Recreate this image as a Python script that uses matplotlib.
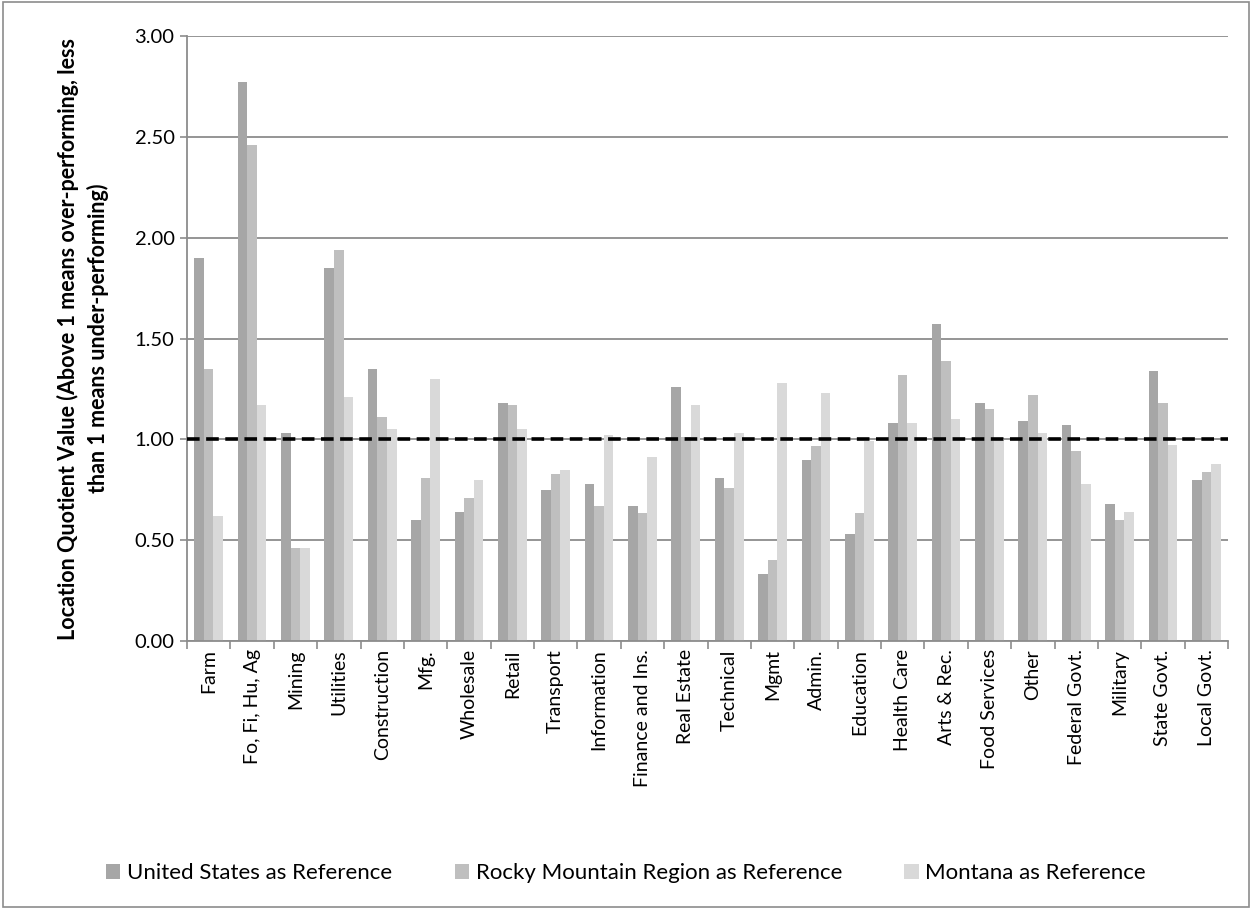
import numpy as np
import matplotlib.pyplot as plt
from matplotlib.patches import Rectangle

plt.rcParams['font.family'] = ['Lato', 'DejaVu Sans']

categories = ['Farm', 'Fo, Fi, Hu, Ag', 'Mining', 'Utilities', 'Construction', 'Mfg.',
              'Wholesale', 'Retail', 'Transport', 'Information', 'Finance and Ins.',
              'Real Estate', 'Technical', 'Mgmt', 'Admin.', 'Education', 'Health Care',
              'Arts & Rec.', 'Food Services', 'Other', 'Federal Govt.', 'Military',
              'State Govt.', 'Local Govt.']

us_ref = [1.90, 2.77, 1.03, 1.85, 1.35, 0.60, 0.64, 1.18, 0.75, 0.78, 0.67, 1.26,
          0.81, 0.33, 0.90, 0.53, 1.08, 1.57, 1.18, 1.09, 1.07, 0.68, 1.34, 0.80]
rocky_ref = [1.35, 2.46, 0.46, 1.94, 1.11, 0.81, 0.71, 1.17, 0.83, 0.67, 0.635, 1.01,
             0.76, 0.40, 0.965, 0.635, 1.32, 1.39, 1.15, 1.22, 0.94, 0.60, 1.18, 0.84]
mt_ref = [0.62, 1.17, 0.46, 1.21, 1.05, 1.30, 0.80, 1.05, 0.85, 1.02, 0.91, 1.17,
          1.03, 1.28, 1.23, 0.99, 1.08, 1.10, 1.00, 1.03, 0.78, 0.64, 0.97, 0.88]

series = [('United States as Reference', us_ref, '#A6A6A6'),
          ('Rocky Mountain Region as Reference', rocky_ref, '#BFBFBF'),
          ('Montana as Reference', mt_ref, '#D9D9D9')]

fig = plt.figure(figsize=(12.52, 9.09), dpi=100)
ax = fig.add_axes([187/1252, 1-641/909, (1228-187)/1252, (641-36)/909])

x = np.arange(len(categories))
w = 0.22
for i, (name, vals, col) in enumerate(series):
    ax.bar(x + (i-1)*w, vals, w, color=col, label=name, zorder=2)

ax.axhline(1.0, color='black', linestyle=(0, (3.5, 1.8)), linewidth=2.6, zorder=3)

ax.set_xlim(-0.5, len(categories)-0.5)
ax.set_ylim(0, 3)
ax.set_yticks(np.arange(0, 3.01, 0.5))
ax.set_yticklabels(['%.2f' % v for v in np.arange(0, 3.01, 0.5)], fontsize=14.5)
ax.yaxis.grid(True, color='#8c8c8c', linewidth=1.3, zorder=0)
ax.set_axisbelow(True)

ax.set_xticks(x)
ax.set_xticklabels(categories, rotation=90, fontsize=14)
ax.tick_params(axis='x', length=0, pad=6)
ax.set_xticks(np.arange(-0.5, len(categories), 1), minor=True)
ax.tick_params(axis='x', which='minor', length=6, color='#8c8c8c', width=1.2)
ax.tick_params(axis='y', length=5, color='#8c8c8c', width=1.2, pad=4)

for s in ['top', 'right']:
    ax.spines[s].set_visible(False)
for s in ['left', 'bottom']:
    ax.spines[s].set_color('#8c8c8c')
    ax.spines[s].set_linewidth(1.3)

ax.set_ylabel('Location Quotient Value (Above 1 means over-performing, less\nthan 1 means under-performing)',
              fontsize=15.5, fontweight='bold', labelpad=18, linespacing=1.45)

fig.legend(loc='center', bbox_to_anchor=(0.5, 1-873/909), ncol=3, frameon=False,
           fontsize=16, handlelength=0.65, handleheight=0.65, handletextpad=0.3,
           columnspacing=2.8)

fig.patches.append(Rectangle((0.002, 0.002), 0.996, 0.996, transform=fig.transFigure,
                             fill=False, edgecolor='#8c8c8c', linewidth=1.2))

fig.savefig('out.png', dpi=100)
